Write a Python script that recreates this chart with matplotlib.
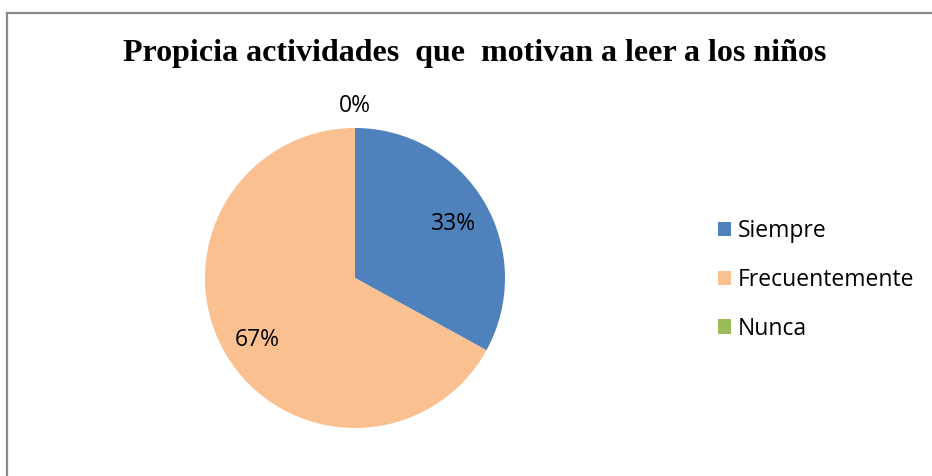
import matplotlib
matplotlib.use("Agg")
import matplotlib.pyplot as plt
from matplotlib.lines import Line2D
from matplotlib.patches import Patch

title = "Propicia actividades  que  motivan a leer a los niños"
categories = ["Siempre", "Frecuentemente", "Nunca"]
values = [33, 67, 0]
colors = ["#4F81BD", "#FAC090", "#9BBB59"]

W, H = 932, 476
fig = plt.figure(figsize=(W / 100, H / 100), dpi=100)
fig.patch.set_facecolor("white")

# chart border (top and left visible)
fig.add_artist(Line2D([6.5 / W, 6.5 / W], [0, 1 - 12.5 / H], transform=fig.transFigure,
                      color="#888888", lw=1.6))
fig.add_artist(Line2D([6.5 / W, 1], [1 - 12.5 / H, 1 - 12.5 / H], transform=fig.transFigure,
                      color="#888888", lw=1.6))

fig.text(475 / W, 1 - 53 / H, title, ha="center", va="center",
         fontfamily="Liberation Serif", fontweight="bold", fontsize=23)

cx, cy, r = 355, 278, 150
ax = fig.add_axes([(cx - r) / W, (H - cy - r) / H, 2 * r / W, 2 * r / H])
wedges, texts, autotexts = ax.pie(values, colors=colors, startangle=90, counterclock=False,
                                  autopct="%1.0f%%", pctdistance=0.76,
                                  textprops=dict(fontfamily="Open Sans", fontsize=16.5, color="black"))
ax.set_xlim(-1, 1)
ax.set_ylim(-1, 1)
ax.set_aspect("equal")
for v, t in zip(values, autotexts):
    if v == 0:
        t.set_position((0, 1.15))
    else:
        x, y = t.get_position()
        t.set_position((x, y - 0.025))

handles = [Patch(facecolor=c, edgecolor="none") for c in colors]
fig.legend(handles, categories, loc="center left", bbox_to_anchor=(697 / W, 1 - 280 / H),
           frameon=False, prop=dict(family="Open Sans", size=16.5),
           handlelength=0.6, handleheight=0.6, handletextpad=0.3, labelspacing=1.08)

fig.savefig("out.png", dpi=100)
